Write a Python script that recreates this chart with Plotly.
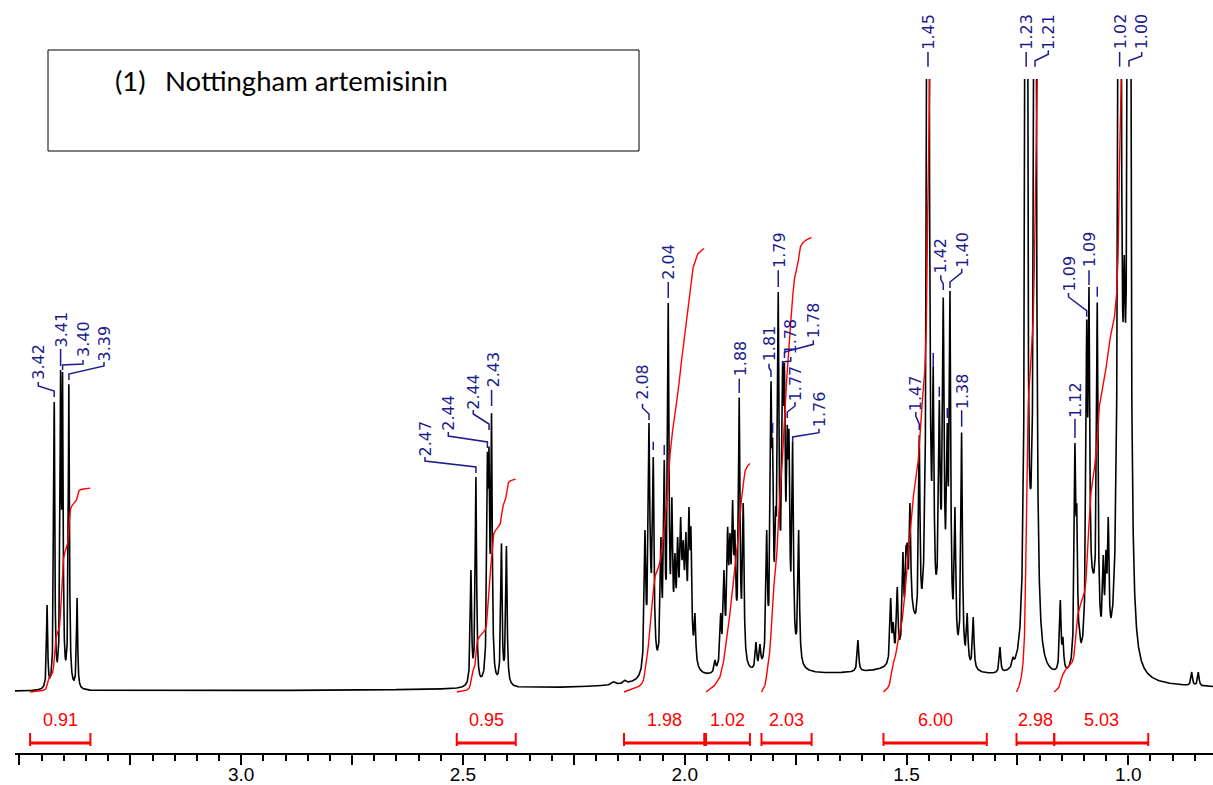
import numpy as np
import plotly.graph_objects as go

# ---------------- data ----------------
# resonances: chemical shift (ppm), observed peak-top height above baseline, half width (ppm)
peak_ppm = [3.4376, 3.4216, 3.4072, 3.4027, 3.3885, 3.3700,
            2.4820, 2.4708, 2.4449, 2.4413, 2.4355, 2.4133, 2.4020,
            2.1600, 2.1350,
            2.0897, 2.0806, 2.0710, 2.0537, 2.0462, 2.0372, 2.0289, 2.0221, 2.0160, 2.0092,
            2.0034, 1.9973, 1.9905, 1.9860, 1.9770,
            1.9319, 1.9190, 1.9116, 1.9033, 1.8981, 1.8920, 1.8868, 1.8771, 1.8681, 1.8394, 1.8304,
            1.8153, 1.8056, 1.8018, 1.7950, 1.7892, 1.7793, 1.7752, 1.7689, 1.7650, 1.7567, 1.7432,
            1.6095,
            1.5357, 1.5299, 1.5209, 1.5080, 1.5012, 1.4983, 1.4922, 1.4713, 1.4516, 1.4397,
            1.4261, 1.4171, 1.4081, 1.4020, 1.3907, 1.3757, 1.3631, 1.3495, 1.2893, 1.2600,
            1.2302, 1.2102,
            1.1533, 1.1473, 1.1202, 1.1160, 1.1101, 1.0938, 1.0886, 1.0699, 1.0564, 1.0503, 1.0451,
            1.0195, 0.9985, 0.8570, 0.8421]
peak_top = [87, 290, 322, 320, 309, 94,
            122, 215, 239, 245, 279, 149, 146,
            10, 10,
            162, 269, 235, 155, 232, 389, 195, 139, 155, 175,
            152, 160, 185, 165, 79,
            32, 79, 122, 165, 159, 192, 162, 295, 189, 50, 48,
            162, 310, 252, 185, 400, 330, 328, 267, 262, 250, 162,
            52,
            94, 70, 105, 140, 145, 149, 189, 257, 1400, 325,
            292, 395, 269, 401, 185, 260, 79, 75, 45, 35,
            1400, 1400,
            92, 55, 249, 187, 65, 372, 405, 390, 137, 142, 175,
            1500, 1500, 20, 20]
peak_hw = [0.0015] * 6 + [0.0018] * 7 + [0.005, 0.004] + [0.002] * 15 + [0.002] * 11 + \
          [0.002] * 11 + [0.002] + \
          [0.002] * 8 + [0.0025] + [0.002] * 11 + \
          [0.0025, 0.0025] + [0.002] * 11 + [0.003, 0.003, 0.002, 0.002]
TALL = 1000  # peaks taller than this run off the top of the window (height given directly)

# broad envelopes under the multiplets (first one = baseline hump)
hump_ppm = [1.55, 2.078, 2.005, 1.895, 1.78, 1.49, 1.42, 1.08, 1.22, 1.009]
hump_int = [18, 55, 65, 45, 60, 45, 70, 70, 25, 200]
hump_hw = [0.40, 0.006, 0.013, 0.012, 0.012, 0.015, 0.012, 0.012, 0.004, 0.0025]

# integrals: region start / end (ppm) and value
int_start = [3.476, 2.514, 2.137, 1.952, 1.827, 1.552, 1.252, 1.167]
int_end = [3.340, 2.381, 1.956, 1.853, 1.714, 1.319, 1.167, 0.955]
int_value = [0.91, 0.95, 1.98, 1.02, 2.03, 6.00, 2.98, 5.03]

# peak labels and the peak each one points at
label_text = ["3.42", "3.41", "3.40", "3.39", "2.47", "2.44", "2.44", "2.43", "2.08", "2.04",
              "1.88", "1.81", "1.79", "1.78", "1.78", "1.77", "1.76", "1.47", "1.45", "1.42",
              "1.40", "1.38", "1.23", "1.21", "1.12", "1.09", "1.09", "1.02", "1.00"]
label_peak = [3.4216, 3.4072, 3.4027, 3.3885, 2.4708, 2.4449, 2.4413, 2.4355, 2.0806, 2.0372,
              1.8771, 1.8056, 1.7892, 1.7793, 1.7752, 1.7689, 1.7567, 1.4713, 1.4516, 1.4171,
              1.4020, 1.3757, 1.2302, 1.2102, 1.1202, 1.0938, 1.0886, 1.0195, 0.9985]
# peaks marked with a leader only (label hidden)
dash_peak = [2.0710, 2.0462, 1.8018, 1.4397, 1.4261, 1.4081, 1.0699]

title_num = "(1)"
title_text = "Nottingham artemisinin"
x_tick_vals = [3.5, 3.25, 3.0, 2.75, 2.5, 2.25, 2.0, 1.75, 1.5, 1.25, 1.0]
x_tick_text = ["", "", "3.0", "", "2.5", "", "2.0", "", "1.5", "", "1.0"]

# ---------------- layout helpers (pixel placement of decorations) ----------------
W, H = 1213, 785
ML, MR, MT, MB = 15, 0, 0, 32
PPM_LEFT, PPM_RIGHT = 3.510, 0.809
BASE_PX = 692          # baseline pixel row
TOP_CLIP_PX = 79       # top of the spectrum window
PLOT_H = H - MT - MB


def px2ppm(px):
    return PPM_LEFT - (px - ML) / (W - ML - MR) * (PPM_LEFT - PPM_RIGHT)


def ppm2px(p):
    return ML + (PPM_LEFT - p) / (PPM_LEFT - PPM_RIGHT) * (W - ML - MR)


def v(py):
    return BASE_PX - py


def paper_x(px):
    return (px - ML) / (W - ML - MR)


def paper_y(py):
    return (H - MB - py) / PLOT_H


label_x_px = [38.3, 60.5, 83, 104, 425, 448.3, 473.3, 492.5, 642.5, 668.3,
              740, 769, 779, 790.8, 813.3, 795, 819, 915.8, 929, 940.8,
              961.7, 962.5, 1027, 1048.3, 1075, 1068.5, 1089, 1120.5, 1141.7]
label_top_px = [343, 313, 320, 327, 422, 395, 375, 352, 363, 243,
                340, 325, 231.7, 318.3, 301.7, 366.7, 391.7, 376.7, 13.3, 238.3,
                233.3, 375, 13.3, 15, 383.3, 257, 230, 13.3, 13.3]
label_bot_px = [380, 347, 358, 360, 455, 430, 408, 388, 401.7, 280,
                376.7, 361.7, 268.3, 355, 338.3, 400, 426.7, 410, 50, 273.3,
                266.7, 408.3, 50, 48.3, 416.7, 291, 268.3, 50, 50]
leader_end_px = [397, 366, 370, 380, 473, 448, 430, 406, 420, 298,
                 393, 377, 287, 366, 358, 418, 443, 430, 66.7, 290,
                 288, 426.7, 66.7, 66.7, 438, 316.7, 285, 66.7, 66.7]
dash_top_px = [441.7, 445, 423, 353, 386.7, 408, 286.7]
dash_bot_px = [450, 455, 433, 367, 396.7, 418, 296.7]

NAVY = "#1c1c8e"
RED = "#ff0000"
LBL_FONT = "DejaVu Sans"
AX_FONT = "Liberation Sans, Arial, sans-serif"

# ---------------- build spectrum ----------------
ppm = np.arange(0.800, 3.520, 0.0002)


def lor(x, c, h, w):
    return h * w ** 2 / ((x - c) ** 2 + w ** 2)


P = np.array(peak_ppm)
T = np.array(peak_top, dtype=float)
WD = np.array(peak_hw)


def humps(x, first=0):
    out = np.zeros_like(np.asarray(x, dtype=float))
    for c, h, w in list(zip(hump_ppm, hump_int, hump_hw))[first:]:
        out = out + lor(x, c, h, w)
    return out


# convert observed peak tops into line amplitudes (peaks overlap through their tails)
tall = T > TALL
sm = ~tall
M = WD[None, :] ** 2 / ((P[:, None] - P[None, :]) ** 2 + WD[None, :] ** 2)
rhs = T[sm] - humps(P[sm]) - M[np.ix_(sm, tall)] @ T[tall]
amp = T.copy()
amp[sm] = np.clip(np.linalg.solve(M[np.ix_(sm, sm)], rhs), 3, None)

narrow = np.zeros_like(ppm)
for c, a, w in zip(P, amp, WD):
    narrow += lor(ppm, c, a, w)
signal = narrow + humps(ppm, first=1)
spec = narrow + humps(ppm)

fig = go.Figure()
fig.add_trace(go.Scatter(x=ppm, y=spec, mode="lines", xaxis="x", yaxis="y",
                         line=dict(color="black", width=1.6), hoverinfo="skip", showlegend=False))

# integral curves
INT_SCALE = 224.0
for a, b, val in zip(int_start, int_end, int_value):
    m = (ppm <= a) & (ppm >= b)
    xs = ppm[m][::-1]
    ys = signal[m][::-1]
    cum = np.concatenate([[0], np.cumsum((ys[1:] + ys[:-1]) / 2 * np.abs(np.diff(xs)))])
    cum = cum / cum[-1] * val * INT_SCALE
    fig.add_trace(go.Scatter(x=xs, y=cum, mode="lines", xaxis="x", yaxis="y",
                             line=dict(color=RED, width=1.4), hoverinfo="skip", showlegend=False))

# leaders
lx, ly = [], []
for t, pk, xp, bot, end in zip(label_text, label_peak, label_x_px, label_bot_px, leader_end_px):
    ppx = ppm2px(pk)
    if abs(xp - ppx) <= 1.5:
        lx += [pk, pk, None]
        ly += [v(bot + 2), v(end), None]
    else:
        mid = max(end - 6, bot + 7)
        lx += [px2ppm(xp), px2ppm(xp), pk, pk, None]
        ly += [v(bot + 2), v(bot + 6), v(mid), v(end), None]
for pk, t0, t1 in zip(dash_peak, dash_top_px, dash_bot_px):
    lx += [pk, pk, None]
    ly += [v(t0), v(t1), None]
fig.add_trace(go.Scatter(x=lx, y=ly, mode="lines", xaxis="x", yaxis="y2",
                         line=dict(color=NAVY, width=1.5), hoverinfo="skip", showlegend=False))

# integral brackets
bx, by, tx, ty = [], [], [], []
for a, b in zip(int_start, int_end):
    bx += [a, b, None]
    by += [v(743), v(743), None]
    tx += [a, a, None, b, b, None]
    ty += [v(733), v(746), None, v(733), v(746), None]
fig.add_trace(go.Scatter(x=bx, y=by, mode="lines", xaxis="x", yaxis="y2",
                         line=dict(color=RED, width=3), hoverinfo="skip", showlegend=False))
fig.add_trace(go.Scatter(x=tx, y=ty, mode="lines", xaxis="x", yaxis="y2",
                         line=dict(color=RED, width=2), hoverinfo="skip", showlegend=False))

annotations = []
for t, xp, top, bot in zip(label_text, label_x_px, label_top_px, label_bot_px):
    annotations.append(dict(x=px2ppm(xp), y=v((top + bot) / 2), xref="x", yref="y2",
                            text=t, textangle=-90, showarrow=False,
                            xanchor="center", yanchor="middle",
                            font=dict(family=LBL_FONT, size=16, color=NAVY)))
for a, b, val in zip(int_start, int_end, int_value):
    annotations.append(dict(x=(a + b) / 2, y=v(720), xref="x", yref="y2",
                            text=f"{val:.2f}", showarrow=False,
                            xanchor="center", yanchor="middle",
                            font=dict(family=AX_FONT, size=18, color=RED)))

# title box
annotations.append(dict(x=paper_x(113), y=paper_y(80), xref="paper", yref="paper",
                        text=title_num, showarrow=False, xanchor="left", yanchor="middle",
                        font=dict(family="Lato", size=27.5, color="black")))
annotations.append(dict(x=paper_x(163), y=paper_y(80), xref="paper", yref="paper",
                        text=title_text, showarrow=False, xanchor="left", yanchor="middle",
                        font=dict(family="Lato", size=27.5, color="black")))
shapes = [dict(type="rect", xref="paper", yref="paper",
               x0=paper_x(48), x1=paper_x(639), y0=paper_y(151), y1=paper_y(50),
               line=dict(color="black", width=1), fillcolor="rgba(0,0,0,0)")]

fig.update_layout(
    width=W, height=H,
    margin=dict(l=ML, r=MR, t=MT, b=MB, pad=0, autoexpand=False),
    paper_bgcolor="white", plot_bgcolor="rgba(0,0,0,0)",
    showlegend=False,
    xaxis=dict(range=[PPM_LEFT, PPM_RIGHT], domain=[0, 1], anchor="y", automargin=False,
               showline=True, linecolor="black", linewidth=2,
               ticks="outside", tickvals=x_tick_vals, ticktext=x_tick_text,
               ticklen=10, tickwidth=2, tickcolor="black", ticklabelstandoff=-7,
               minor=dict(dtick=0.05, tick0=0, ticks="outside", ticklen=6, tickwidth=2, tickcolor="black"),
               showgrid=False, zeroline=False,
               tickfont=dict(family=AX_FONT, size=19, color="black")),
    yaxis=dict(domain=[0, (PLOT_H - TOP_CLIP_PX) / PLOT_H], range=[v(BASE_PX + 61), v(TOP_CLIP_PX)],
               visible=False, anchor="x", automargin=False),
    yaxis2=dict(domain=[0, 1], range=[v(H - MB), v(0)], visible=False, anchor="x", automargin=False),
    annotations=annotations,
    shapes=shapes,
)

fig.write_html("out.html", config={"displayModeBar": False},
               post_script="document.body.style.margin='0px';document.body.style.padding='0px';"
                           "document.documentElement.style.overflow='hidden';")
